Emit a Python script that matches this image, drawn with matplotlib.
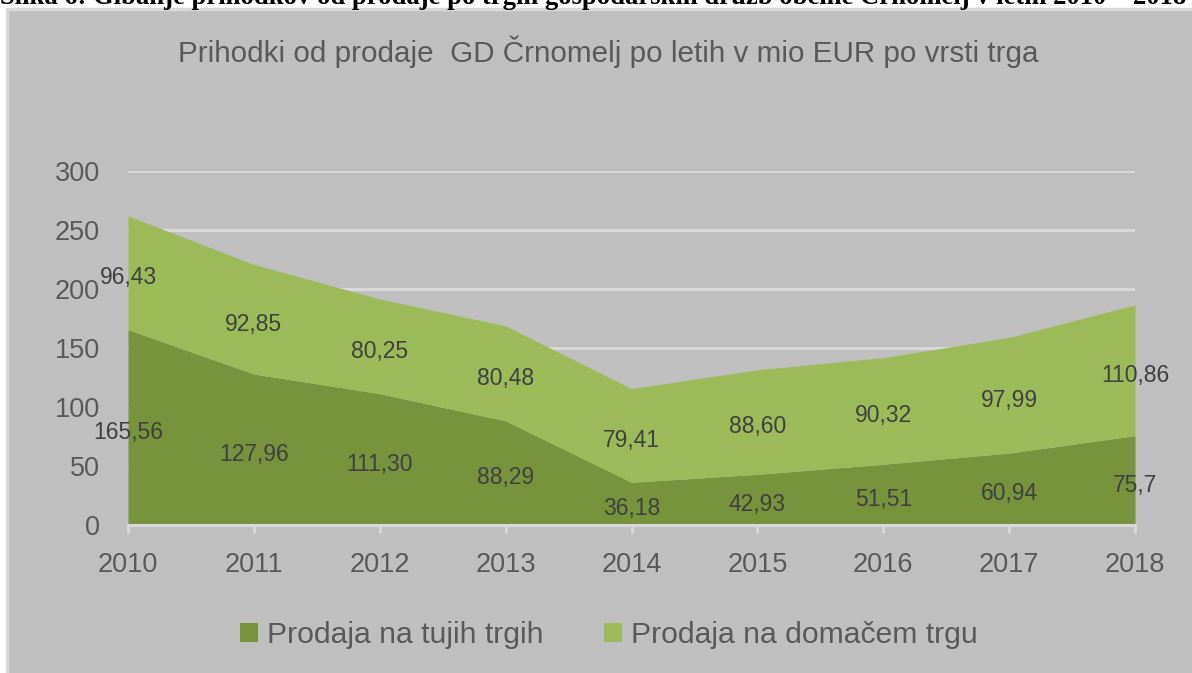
"""
area chart: prihodki od prodaje GD Crnomelj po vrsti trga
"""
import numpy as np
import matplotlib
matplotlib.use('Agg')
import matplotlib.pyplot as plt
from matplotlib.patches import Rectangle, Patch

# data
years = [2010, 2011, 2012, 2013, 2014, 2015, 2016, 2017, 2018]
tuji = [165.56, 127.96, 111.30, 88.29, 36.18, 42.93, 51.51, 60.94, 75.7]
domaci = [96.43, 92.85, 80.25, 80.48, 79.41, 88.60, 90.32, 97.99, 110.86]
tuji_labels = ['165,56', '127,96', '111,30', '88,29', '36,18', '42,93', '51,51', '60,94', '75,7']
domaci_labels = ['96,43', '92,85', '80,25', '80,48', '79,41', '88,60', '90,32', '97,99', '110,86']
series_names = ['Prodaja na tujih trgih', 'Prodaja na domačem trgu']
title = 'Prihodki od prodaje  GD Črnomelj po letih v mio EUR po vrsti trga'
caption = ('Slika 6: Gibanje prihodkov od prodaje po trgih gospodarskih družb '
           'občine Črnomelj v letih 2010 – 2018')

DARK = '#77933c'
LIGHT = '#9bbb59'
BG = '#bfbfbf'
GRID = '#d9d9d9'
TXT = '#595959'
FONT = ['Liberation Sans', 'DejaVu Sans']

W, H = 1192, 673
fig = plt.figure(figsize=(W / 100, H / 100), dpi=100, facecolor='white')

# grey chart background with light border
fig.patches.append(Rectangle((7.5 / W, -0.01), 1.0, 1 - 8.5 / H + 0.01,
                             transform=fig.transFigure, facecolor=BG,
                             edgecolor=GRID, linewidth=2.5, zorder=-5))
# cut-off document caption above the chart
fig.text(0.0, 1 - 4 / H, caption, ha='left', va='baseline', fontsize=19.2,
         fontweight='bold', family=['Liberation Serif', 'DejaVu Serif'],
         color='black', zorder=-4)

ax = fig.add_axes([128 / W, (H - 525) / H, (1135 - 128) / W, (525 - 171) / H])
ax.set_facecolor('none')

x = np.array(years)
low = np.array(tuji)
high = low + np.array(domaci)
ax.fill_between(x, 0, low, color=DARK, lw=0, zorder=2)
ax.fill_between(x, low, high, color=LIGHT, lw=0, zorder=2)

ax.set_xlim(2010, 2018)
ax.set_ylim(0, 300)
ax.set_yticks(np.arange(0, 301, 50))
ax.set_xticks(years)
ax.yaxis.grid(True, color=GRID, lw=2.2)
ax.set_axisbelow(True)
for s in ['top', 'right', 'left']:
    ax.spines[s].set_visible(False)
ax.spines['bottom'].set_color(GRID)
ax.spines['bottom'].set_linewidth(2.2)
ax.spines['bottom'].set_zorder(3)
ax.tick_params(axis='y', length=0, pad=20, labelcolor=TXT)
ax.tick_params(axis='x', length=5.5, width=2, color=GRID, pad=14, labelcolor=TXT)
for lab in ax.get_yticklabels():
    lab.set_family(FONT)
    lab.set_fontsize(19.5)
for lab in ax.get_xticklabels():
    lab.set_family(FONT)
    lab.set_fontsize(19.5)

# data labels in the middle of each band
for xi, lo, hi, t1, t2 in zip(x, low, high, tuji_labels, domaci_labels):
    ax.annotate(t1, (xi, lo / 2), xytext=(0, -3.5), textcoords='offset points',
                ha='center', va='center', fontsize=16.5, color='#404040',
                family=FONT, zorder=4, annotation_clip=False)
    ax.annotate(t2, (xi, (lo + hi) / 2), xytext=(0, -3.5), textcoords='offset points',
                ha='center', va='center', fontsize=16.5, color='#404040',
                family=FONT, zorder=4, annotation_clip=False)

fig.text(608 / W, 1 - 52 / H, title, ha='center', va='center', fontsize=21.3,
         family=FONT, color=TXT)

handles = [Patch(facecolor=DARK, edgecolor='none'), Patch(facecolor=LIGHT, edgecolor='none')]
fig.legend(handles, series_names, loc='center', bbox_to_anchor=(609 / W, 1 - 635 / H),
           ncol=2, frameon=False, handlelength=0.6, handleheight=0.6,
           handletextpad=0.3, columnspacing=2.0,
           prop={'family': FONT, 'size': 21.7}, labelcolor=TXT)

fig.savefig('out.png', dpi=100, facecolor='white')
